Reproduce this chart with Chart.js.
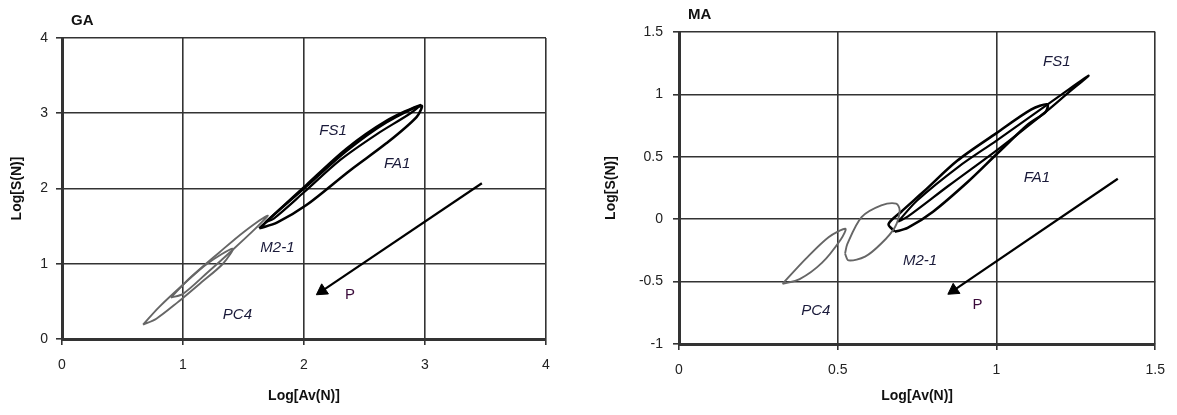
<!DOCTYPE html>
<html>
<head>
<meta charset="utf-8">
<script src="https://cdn.jsdelivr.net/npm/chart.js@4/dist/chart.umd.min.js"></script>
<style>
  html, body { margin: 0; padding: 0; background: #fff; }
  #wrap { display: flex; width: 1177px; height: 415px; }
  .box { position: relative; height: 415px; }
</style>
</head>
<body>
<div id="wrap">
  <div class="box" style="width:590px"><canvas id="ga"></canvas></div>
  <div class="box" style="width:587px"><canvas id="ma"></canvas></div>
</div>
<script>
// GA panel loops  [Log Av(N), Log S(N)]
const gaFS1 = [[1.68,1.55],[1.85,1.8],[2.02,2.05],[2.35,2.53],[2.68,2.9],[2.96,3.11],[2.88,3.0],[2.6,2.72],[2.3,2.38],[2.0,1.95],[1.75,1.6],[1.68,1.55]];
const gaFA1 = [[1.63,1.47],[1.8,1.72],[2.02,2.03],[2.35,2.5],[2.68,2.88],[2.97,3.1],[2.93,2.95],[2.68,2.6],[2.38,2.24],[2.02,1.78],[1.78,1.55],[1.63,1.47]];
const gaM21 = [[0.9,0.55],[1.05,0.8],[1.3,1.15],[1.5,1.42],[1.7,1.64],[1.6,1.47],[1.4,1.17],[1.2,0.88],[1.0,0.6],[0.9,0.55]];
const gaPC4 = [[0.67,0.19],[0.8,0.42],[1.0,0.72],[1.2,1.0],[1.41,1.2],[1.33,1.0],[1.15,0.75],[0.95,0.48],[0.78,0.27],[0.67,0.19]];
const gaArrow = [[3.47,2.07],[2.15,0.64]];
const gaTicksX = [0,1,2,3,4];
const gaTicksY = [0,1,2,3,4];

// MA panel loops
const maFS1 = [[0.69,-0.02],[0.75,0.15],[0.88,0.42],[1.0,0.63],[1.1,0.81],[1.2,0.99],[1.29,1.15],[1.22,1.0],[1.16,0.87],[1.01,0.57],[0.85,0.27],[0.72,0.02],[0.69,-0.02]];
const maFA1 = [[0.68,-0.1],[0.66,-0.04],[0.7,0.06],[0.77,0.22],[0.877,0.47],[1.0,0.69],[1.11,0.88],[1.16,0.92],[1.155,0.86],[1.1,0.76],[1.0,0.52],[0.91,0.3],[0.8,0.06],[0.72,-0.07],[0.68,-0.1]];
const maM21 = [[0.523,-0.277],[0.53,-0.2],[0.575,0.016],[0.637,0.11],[0.684,0.125],[0.695,0.07],[0.68,-0.064],[0.637,-0.195],[0.586,-0.3],[0.534,-0.33],[0.523,-0.277]];
const maPC4 = [[0.326,-0.518],[0.399,-0.318],[0.471,-0.144],[0.524,-0.077],[0.51,-0.16],[0.45,-0.35],[0.38,-0.48],[0.326,-0.518]];
const maArrow = [[1.382,0.324],[0.865,-0.57]];
const maTicksX = [0,0.5,1,1.5];
const maTicksY = [-1,-0.5,0,0.5,1,1.5];

const gaNotes = [['FS1',2.24,2.77],['FA1',2.77,2.33],['M2-1',1.78,1.21],['PC4',1.45,0.32],['P',2.38,0.58,false]];
const maNotes = [['FS1',1.19,1.26],['FA1',1.127,0.334],['M2-1',0.759,-0.33],['PC4',0.431,-0.732],['P',0.94,-0.69,false]];

const pts = a => a.map(p => ({x: p[0], y: p[1]}));

function loop(data, color, width) {
  return { data: pts(data), showLine: true, borderColor: color, borderWidth: width,
           pointRadius: 0, tension: 0.3, fill: false };
}
function arrow(data) {
  return { data: pts(data), showLine: true, borderColor: '#000', backgroundColor: '#000',
           borderWidth: 2.2, tension: 0, pointRadius: [0, 7], pointStyle: 'triangle',
           pointRotation: 236, pointBorderWidth: 1 };
}

const notesPlugin = {
  id: 'notes',
  afterDatasetsDraw(chart, args, opts) {
    const c = chart.ctx, xs = chart.scales.x, ys = chart.scales.y;
    c.save();
    c.textAlign = 'center'; c.textBaseline = 'middle';
    opts.items.forEach(n => {
      c.font = (n[3] === false ? '' : 'italic ') + '15px "Liberation Sans", Arial, sans-serif';
      c.fillStyle = n[3] === false ? '#3a0a3a' : '#1a1a3a';
      c.fillText(n[0], xs.getPixelForValue(n[1]), ys.getPixelForValue(n[2]));
    });
    c.font = 'bold 15px "Liberation Sans", Arial, sans-serif';
    c.fillStyle = '#111'; c.textAlign = 'left';
    c.fillText(opts.title, chart.chartArea.left + 9, chart.chartArea.top - 17);
    c.restore();
  }
};

function makeChart(id, o) {
  const tickFont = { family: '"Liberation Sans", Arial, sans-serif', size: 14 };
  const titleFont = { family: '"Liberation Sans", Arial, sans-serif', size: 14, weight: 'bold' };
  const grid = { color: '#333', lineWidth: 1.6, tickLength: 6, drawTicks: true };
  const border = { color: '#333', width: 3 };
  new Chart(document.getElementById(id), {
    type: 'scatter',
    data: { datasets: [
      loop(o.pc4, '#666', 1.9),
      loop(o.m21, '#666', 1.9),
      loop(o.fa1, '#000', 2.6),
      loop(o.fs1, '#000', 2.2),
      arrow(o.arrow)
    ]},
    options: {
      responsive: true, maintainAspectRatio: false, animation: false,
      layout: { padding: { top: o.top, right: o.right, left: 0, bottom: 0 } },
      plugins: { legend: { display: false }, tooltip: { enabled: false },
                 notes: { items: o.notes, title: o.title } },
      scales: {
        x: { type: 'linear', min: o.xt[0], max: o.xt[o.xt.length - 1],
             afterBuildTicks: s => { s.ticks = o.xt.map(v => ({value: v})); },
             afterFit: s => { s.height = o.xh; },
             grid: grid, border: border,
             ticks: { font: tickFont, color: '#222', padding: 12, maxRotation: 0,
                      callback: v => String(v) },
             title: { display: true, text: 'Log[Av(N)]', font: titleFont, color: '#111',
                      padding: { top: 0, bottom: 10 } } },
        y: { type: 'linear', min: o.yt[0], max: o.yt[o.yt.length - 1],
             afterBuildTicks: s => { s.ticks = o.yt.map(v => ({value: v})); },
             afterFit: s => { s.width = o.yw; },
             grid: grid, border: border,
             ticks: { font: tickFont, color: '#222', padding: o.ypad,
                      callback: v => String(v) },
             title: { display: true, text: 'Log[S(N)]', font: titleFont, color: '#111',
                      padding: { top: o.ytp, bottom: 0 } } }
      }
    },
    plugins: [notesPlugin]
  });
}

makeChart('ga', { pc4: gaPC4, m21: gaM21, fa1: gaFA1, fs1: gaFS1, arrow: gaArrow,
  xt: gaTicksX, yt: gaTicksY, notes: gaNotes, title: 'GA',
  top: 38, right: 44, xh: 76, yw: 62, ypad: 8, ytp: 9 });
makeChart('ma', { pc4: maPC4, m21: maM21, fa1: maFA1, fs1: maFS1, arrow: maArrow,
  xt: maTicksX, yt: maTicksY, notes: maNotes, title: 'MA',
  top: 32, right: 18, xh: 71, yw: 89, ypad: 10, ytp: 13 });
</script>
</body>
</html>
